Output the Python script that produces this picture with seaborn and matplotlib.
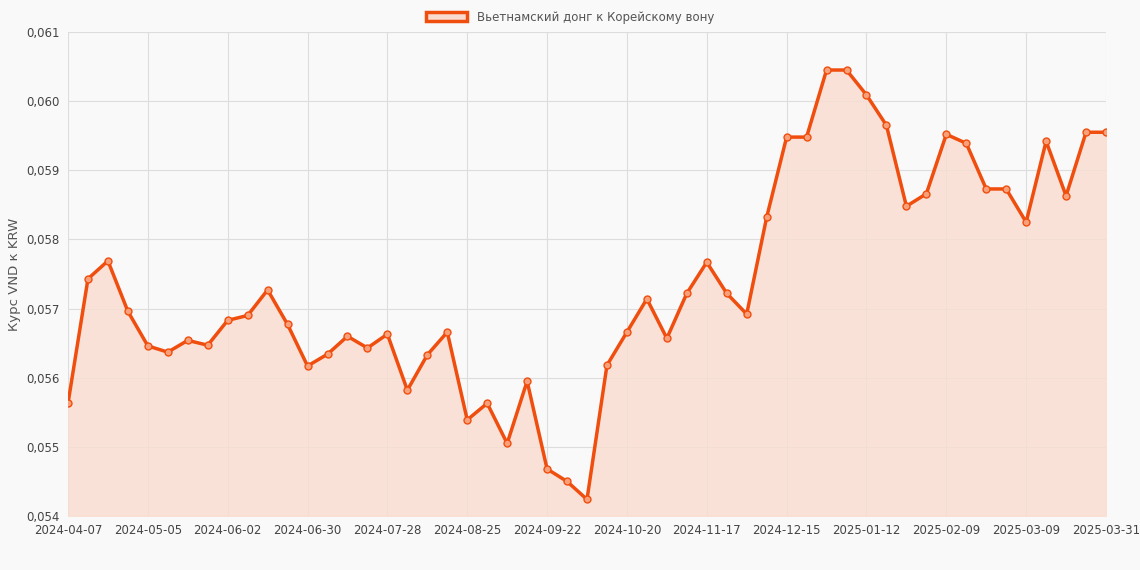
import pandas as pd
import matplotlib.pyplot as plt
import seaborn as sns

# Weekly dates (last point is 2025-03-31)
dates = [d.strftime('%Y-%m-%d') for d in pd.date_range('2024-04-07', periods=52, freq='7D')] + ['2025-03-31']
rates = [0.05563, 0.05743, 0.05769, 0.05696, 0.05646, 0.05637, 0.05654, 0.05647, 0.05683, 0.05690,
         0.05727, 0.05677, 0.05617, 0.05634, 0.05660, 0.05643, 0.05663, 0.05582, 0.05633, 0.05666,
         0.05539, 0.05563, 0.05505, 0.05595, 0.05468, 0.05450, 0.05424, 0.05618, 0.05666, 0.05714,
         0.05657, 0.05722, 0.05767, 0.05722, 0.05692, 0.05832, 0.05948, 0.05948, 0.06045, 0.06045,
         0.06009, 0.05965, 0.05848, 0.05866, 0.05952, 0.05939, 0.05873, 0.05873, 0.05825, 0.05942,
         0.05863, 0.05955, 0.05955]
yticks = [0.054, 0.055, 0.056, 0.057, 0.058, 0.059, 0.060, 0.061]

df = pd.DataFrame({'i': range(len(rates)), 'rate': rates})
line_color = '#f04e0e'
fill_color = '#f9dccf'

sns.set_style('whitegrid')
plt.rcParams['font.family'] = ['DejaVu Sans']
fig = plt.figure(figsize=(11.4, 5.7), dpi=100, facecolor='#f9f9f9')
ax = fig.add_axes([68/1140, 1-516/570, 1038/1140, 484/570])
ax.set_facecolor('#f9f9f9')

ax.fill_between(df['i'], df['rate'], 0.054, color=fill_color, alpha=0.8, zorder=1)
sns.lineplot(data=df, x='i', y='rate', ax=ax, color=line_color, linewidth=2.5,
             marker='o', markersize=5, markerfacecolor='#f7a07a',
             markeredgecolor=line_color, markeredgewidth=1, zorder=3)

ax.set_xlim(0, len(rates) - 1)
ax.set_ylim(0.054, 0.061)
tick_idx = list(range(0, 49, 4)) + [len(rates) - 1]
ax.set_xticks(tick_idx)
ax.set_xticklabels([dates[i] for i in tick_idx], fontsize=8.5, color='#444444')
ax.set_yticks(yticks)
ax.set_yticklabels([f'{v:.3f}'.replace('.', ',') for v in yticks], fontsize=8.5, color='#444444')
ax.grid(color='#dddddd', linewidth=0.8)
for s in ax.spines.values():
    s.set_visible(False)
ax.tick_params(length=0, pad=6)
ax.set_xlabel('')
ax.set_ylabel('Курс VND к KRW', fontsize=9.5, color='#555555')

from matplotlib.patches import Patch
fig.legend(handles=[Patch(facecolor=fill_color, edgecolor=line_color, linewidth=2.5,
                          label='Вьетнамский донг к Корейскому вону')],
           loc='upper center', bbox_to_anchor=(0.5, 1.0), frameon=False, fontsize=8.5,
           handlelength=3.5, labelcolor='#555555')

fig.savefig('out.png', dpi=100, facecolor=fig.get_facecolor())
